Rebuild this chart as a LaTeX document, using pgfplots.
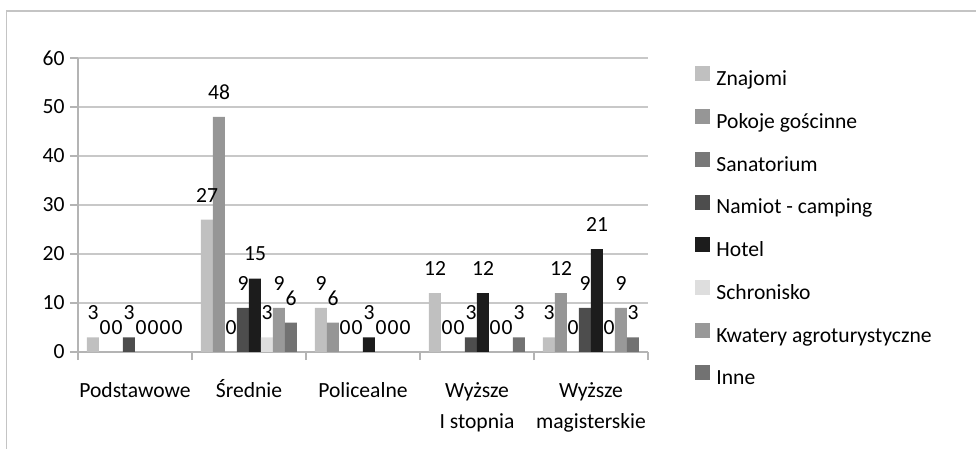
\documentclass[border=0pt]{standalone}
\usepackage{fontspec}
\setmainfont{Carlito}
\usepackage{pgfplots}
\pgfplotsset{compat=1.18}
\definecolor{cZnajomi}{HTML}{C0C0C0}
\definecolor{cPokoje}{HTML}{969696}
\definecolor{cSanat}{HTML}{787878}
\definecolor{cNamiot}{HTML}{4D4D4D}
\definecolor{cHotel}{HTML}{1C1C1C}
\definecolor{cSchron}{HTML}{DEDEDE}
\definecolor{cKwatery}{HTML}{999999}
\definecolor{cInne}{HTML}{727272}
\definecolor{gridc}{HTML}{C8C8C8}
\definecolor{axisc}{HTML}{B4B4B4}
\definecolor{framec}{HTML}{C4C4C4}
\pgfplotsset{/pgf/number format/assume math mode=true}
\begin{document}
\begin{tikzpicture}[font=\fontsize{10.8bp}{15.5bp}\selectfont]
\path[use as bounding box] (0,0) rectangle (488bp,224.5bp);
\draw[framec, line width=0.6bp] (3.25bp,0) -- (3.25bp,219bp) -- (488bp,219bp);
\begin{axis}[
  at={(39bp,48.5bp)}, anchor=south west,
  width=285bp, height=147bp, scale only axis,
  ybar=0pt, bar width=6bp,
  xmin=-0.5, xmax=4.5, ymin=0, ymax=60,
  ytick={0,10,...,60},
  xtick={-0.5,0.5,...,4.5}, xticklabels={},
  extra x ticks={0,1,2,3,4},
  extra x tick labels={\strut Podstawowe,\strut Średnie,\strut Policealne,\strut Wyższe\\I stopnia,\strut Wyższe\\magisterskie},
  extra x tick style={major tick length=0pt},
  xticklabel style={align=center, anchor=north, inner sep=0pt, yshift=-11.65bp},
  yticklabel style={anchor=east, inner sep=0pt, xshift=-2.5bp},
  axis x line*=bottom, axis y line*=left,
  axis line style={axisc, line width=0.6bp, -},
  tick align=outside, major tick length=4bp,
  tick style={axisc, line width=0.6bp},
  ymajorgrids, grid style={gridc, line width=0.6bp},
  nodes near coords,
  every node near coord/.append style={anchor=center, yshift=12.25bp, inner sep=0pt, text=black},
  legend cell align=left,
  legend style={at={(1.0825,0.9728)}, anchor=north west, draw=none, inner sep=0pt,
    row sep=9.15bp,
    nodes={inner sep=0pt, text height=7.5bp, text depth=2.5bp},
    /tikz/every odd column/.append style={column sep=3bp}},
  legend image code/.code={\fill[#1] (0bp,-0.3bp) rectangle (7.5bp,7.2bp);},
  every axis plot/.append style={draw=none},
]
\addplot[fill=cZnajomi] coordinates {(0,3) (1,27) (2,9) (3,12) (4,3)};
\addplot[fill=cPokoje] coordinates {(0,0) (1,48) (2,6) (3,0) (4,12)};
\addplot[fill=cSanat] coordinates {(0,0) (1,0) (2,0) (3,0) (4,0)};
\addplot[fill=cNamiot] coordinates {(0,3) (1,9) (2,0) (3,3) (4,9)};
\addplot[fill=cHotel] coordinates {(0,0) (1,15) (2,3) (3,12) (4,21)};
\addplot[fill=cSchron] coordinates {(0,0) (1,3) (2,0) (3,0) (4,0)};
\addplot[fill=cKwatery] coordinates {(0,0) (1,9) (2,0) (3,0) (4,9)};
\addplot[fill=cInne] coordinates {(0,0) (1,6) (2,0) (3,3) (4,3)};
\legend{Znajomi,Pokoje gościnne,Sanatorium,Namiot - camping,Hotel,Schronisko,Kwatery agroturystyczne,Inne}
\end{axis}
\end{tikzpicture}
\end{document}
